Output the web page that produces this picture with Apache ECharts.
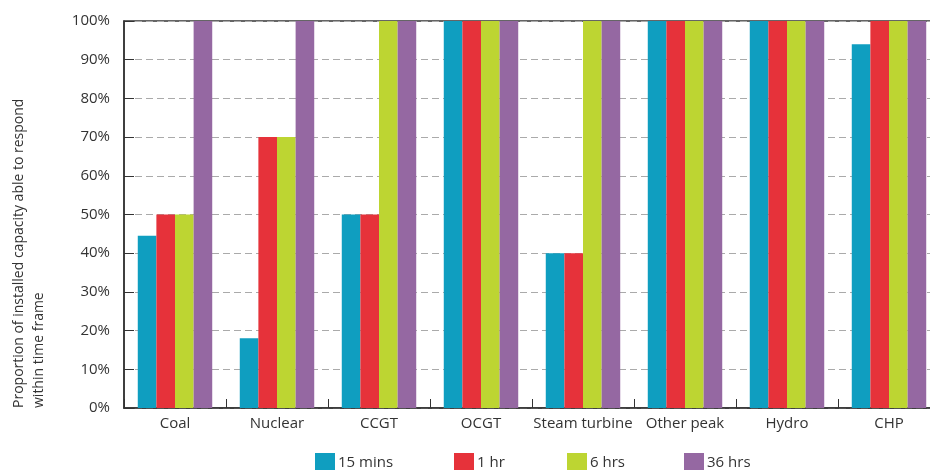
<!DOCTYPE html>
<html>
<head>
<meta charset="utf-8">
<script src="https://cdn.jsdelivr.net/npm/echarts@6/dist/echarts.min.js"></script>
<style>html,body{margin:0;padding:0;background:#fff;}#c{width:930px;height:470px;}</style>
</head>
<body>
<div id="c"></div>
<script>
const categories = ['Coal', 'Nuclear', 'CCGT', 'OCGT', 'Steam turbine', 'Other peak', 'Hydro', 'CHP'];
const seriesNames = ['15 mins', '1 hr', '6 hrs', '36 hrs'];
const mins15 = [44.5, 18, 50, 100, 40, 100, 100, 94];
const hr1 = [50, 70, 50, 100, 40, 100, 100, 100];
const hrs6 = [50, 70, 100, 100, 100, 100, 100, 100];
const hrs36 = [100, 100, 100, 100, 100, 100, 100, 100];
const yTicks = [0, 10, 20, 30, 40, 50, 60, 70, 80, 90, 100];

const colors = ['#0F9EC0', '#E6323A', '#BDD532', '#9568A2'];
const FONT = '"Open Sans", sans-serif';
const allData = [mins15, hr1, hrs6, hrs36];
const legendLefts = [310, 449, 562, 679];

const chart = echarts.init(document.getElementById('c'), null, {renderer: 'canvas'});
chart.setOption({
  animation: false,
  color: colors,
  grid: {left: 124, top: 21, width: 816, height: 387, outerBoundsMode: 'none', containLabel: false,
    show: true, borderColor: '#333', borderWidth: 1.5, backgroundColor: 'transparent'},
  legend: seriesNames.map((n, i) => ({
    data: [n], left: legendLefts[i], top: 448, itemWidth: 20, itemHeight: 20, itemGap: 0,
    icon: 'rect',
    textStyle: {fontFamily: FONT, fontSize: 15, color: '#333', padding: [0, 0, 0, -2]}
  })),
  xAxis: {
    type: 'category', data: categories,
    axisLine: {lineStyle: {color: '#333', width: 1.5}},
    axisTick: {show: true, inside: true, length: 9, lineStyle: {color: '#333'}},
    axisLabel: {fontFamily: FONT, fontSize: 15, color: '#333', margin: 8, interval: 0}
  },
  yAxis: {
    type: 'value', min: yTicks[0], max: yTicks[yTicks.length - 1], interval: 10,
    axisLine: {show: true, lineStyle: {color: '#333', width: 1.5}},
    axisTick: {show: true, inside: true, length: 10, lineStyle: {color: '#333'}},
    axisLabel: {fontFamily: FONT, fontSize: 15, color: '#333', margin: 14, formatter: v => v + '%'},
    splitLine: {show: true, lineStyle: {color: '#aaa', type: [7, 4], width: 1}}
  },
  graphic: [{
    type: 'text', x: 9, y: 408, rotation: Math.PI / 2,
    style: {
      text: 'Proportion of installed capacity able to respond\nwithin time frame',
      fontFamily: FONT, fontSize: 14, fill: '#333', lineHeight: 20,
      align: 'left', verticalAlign: 'top'
    }
  }],
  series: seriesNames.map((n, i) => ({
    name: n, type: 'bar', data: allData[i], barGap: '0%', barCategoryGap: '27%',
    itemStyle: {color: colors[i]}
  }))
});
</script>
</body>
</html>
